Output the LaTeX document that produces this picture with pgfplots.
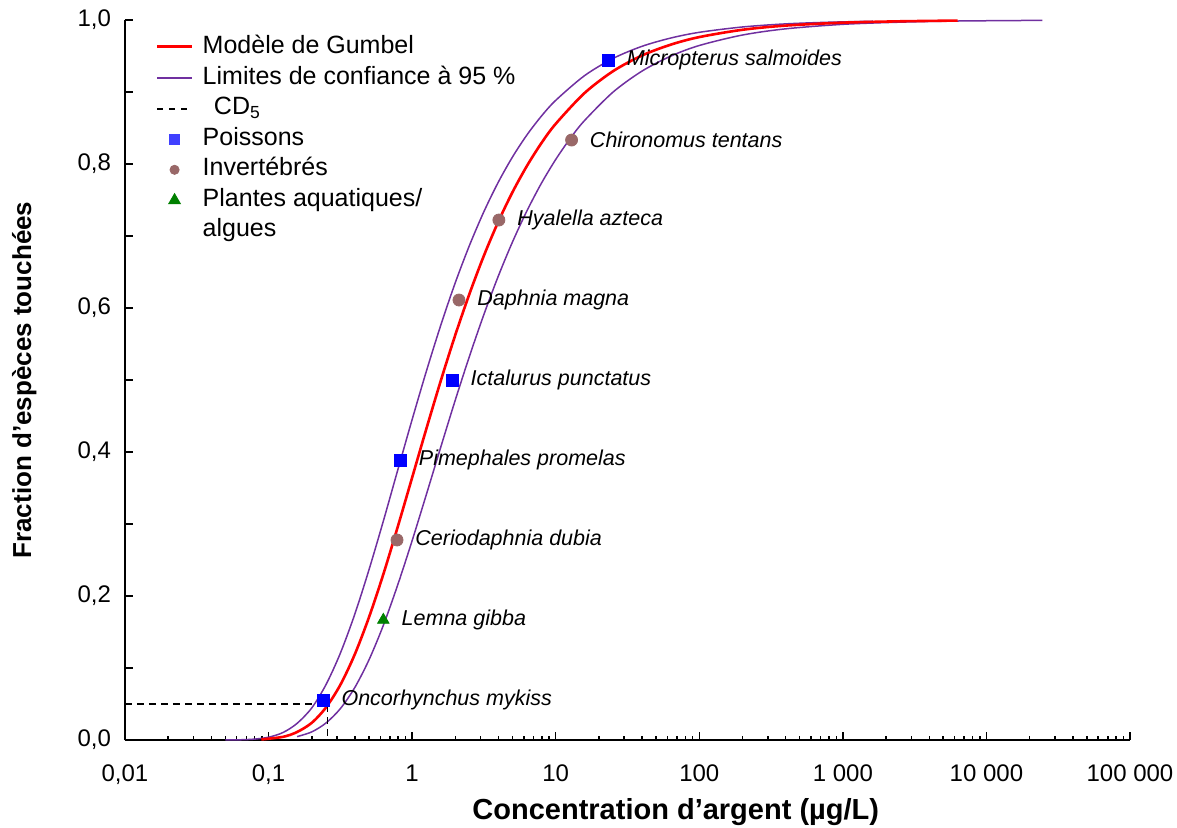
\documentclass[border=0pt]{standalone}
\usepackage{fontspec}
\setmainfont{Liberation Sans}
\usepackage{pgfplots}
\pgfplotsset{compat=1.18}
\usepackage{pgfplotstable}
\definecolor{cbrown}{RGB}{153,104,104}
\definecolor{cpurple}{RGB}{112,48,160}
\definecolor{cgreen}{RGB}{0,128,0}
\definecolor{cred}{RGB}{255,0,0}

\pgfplotstableread{
x y
0.0891 0.0008
0.126 0.0044
0.158 0.0111
0.200 0.0239
0.251 0.0451
0.316 0.0765
0.398 0.1186
0.501 0.1707
0.631 0.2306
0.794 0.2961
1 0.3645
1.259 0.4329
1.585 0.4993
1.995 0.5621
2.512 0.6201
3.162 0.6728
3.981 0.7198
5.012 0.7613
6.310 0.7975
7.943 0.8289
10 0.8558
15.85 0.8984
25.12 0.9290
39.81 0.9506
63.10 0.9657
100 0.9763
199.5 0.9864
398.1 0.9922
1000 0.9963
2512 0.9982
6310 0.9992
}\tabgumbel

\pgfplotstableread{
x y
0.0501 0.0001
0.0631 0.0003
0.0794 0.0012
0.1 0.0039
0.126 0.0104
0.158 0.0231
0.200 0.0446
0.251 0.0768
0.316 0.1204
0.398 0.1743
0.501 0.2367
0.631 0.3045
0.794 0.3749
1 0.4451
1.259 0.5128
1.585 0.5764
1.995 0.6348
2.512 0.6873
3.162 0.7339
3.981 0.7747
5.012 0.8101
6.310 0.8405
7.943 0.8664
10 0.8884
15.85 0.9226
25.12 0.9467
39.81 0.9634
63.10 0.9749
100 0.9829
199.5 0.9903
398.1 0.9946
794.3 0.9969
1622 0.9983
}\tabupper

\pgfplotstableread{
x y
0.158 0.0047
0.200 0.0113
0.251 0.0236
0.316 0.0435
0.398 0.0726
0.501 0.1115
0.631 0.1596
0.794 0.2155
1 0.2769
1.259 0.3416
1.585 0.4072
1.995 0.4717
2.512 0.5334
3.162 0.5911
3.981 0.6442
5.012 0.6922
6.310 0.7351
7.943 0.7731
10 0.8063
12.59 0.8352
15.85 0.8602
25.12 0.9000
39.81 0.9289
63.10 0.9497
100 0.9646
199.5 0.9791
398.1 0.9877
1000 0.9940
2512 0.9970
6310 0.9986
24550 0.9995
}\tablower

\pgfplotstableread[col sep=comma]{
x,y,label
0.240,0.0556,Oncorhynchus mykiss
0.83,0.3889,Pimephales promelas
1.905,0.5,Ictalurus punctatus
23.3,0.9444,Micropterus salmoides
}\tabfish

\pgfplotstableread[col sep=comma]{
x,y,label
0.785,0.2778,Ceriodaphnia dubia
2.12,0.6111,Daphnia magna
4.02,0.7222,Hyalella azteca
12.9,0.8333,Chironomus tentans
}\tabinvert

\pgfplotstableread[col sep=comma]{
x,y,label
0.63,0.1667,Lemna gibba
}\tabplants

\pgfplotstableread{
x y
0.01 0.05
0.258 0.05
0.258 0
}\tabcdfive

\begin{document}
\begin{tikzpicture}
\begin{axis}[
  scale only axis,
  width=502.5pt, height=360pt,
  xmode=log,
  xmin=0.01, xmax=100000,
  ymin=0, ymax=1,
  axis x line*=bottom,
  axis y line*=left,
  axis line style={-, line width=1pt},
  tick align=inside,
  tick style={black, line width=0.75pt},
  major tick length=4pt,
  minor tick length=2pt,
  xtick={0.01,0.1,1,10,100,1000,10000,100000},
  xticklabels={{0,01},{0,1},1,10,100,{1 000},{10 000},{100 000}},
  ytick={0,0.2,0.4,0.6,0.8,1},
  extra y ticks={0.1,0.3,0.5,0.7,0.9},
  extra y tick labels={},
  extra y tick style={tick style={black, line width=0.75pt}},
  /pgf/number format/assume math mode=true,
  yticklabel style={/pgf/number format/.cd, fixed, fixed zerofill, precision=1, use comma, /tikz/.cd, xshift=-3.5pt},
  ticklabel style={font=\fontsize{12}{14}\selectfont},
  xticklabel style={yshift=-9pt},
  xlabel={Concentration d’argent (µg/L)},
  ylabel={Fraction d’espèces touchées},
  xlabel style={at={(axis description cs:0.548,-0.111)}, anchor=base, font=\fontsize{14.5}{17}\selectfont\bfseries},
  ylabel style={at={(axis description cs:-0.0935,0.5)}, anchor=base, font=\fontsize{13}{15}\selectfont\bfseries},
  legend style={at={(axis description cs:0,1)}, anchor=north west, xshift=15.5pt, yshift=-6pt,
    draw=none, fill=none, inner sep=0pt, row sep=0.3pt,
    font=\fontsize{12.5}{15}\selectfont,
    /tikz/every odd column/.append style={column sep=3.5pt},
    nodes={inner sep=1.5pt, text height=9pt, text depth=3pt}},
  legend cell align=left,
  clip=false,
]
\addlegendimage{legend image code/.code={\draw[draw=cred, line width=1.1pt] (0cm,0.5pt) -- (0.6cm,0.5pt);}}
\addlegendentry{Modèle de Gumbel}
\addlegendimage{legend image code/.code={\draw[draw=cpurple, line width=0.9pt] (0cm,0pt) -- (0.6cm,0pt);}}
\addlegendentry{Limites de confiance à 95 \%}
\addlegendimage{legend image code/.code={\draw[draw=black, line width=1pt, dash pattern=on 2.8pt off 3.2pt] (0cm,0cm) -- (0.6cm,0cm);}}
\addlegendentry{\hspace{0.45em}CD\textsubscript{5}}
\addlegendimage{only marks, mark=square*, mark size=2.5pt, color=blue!75!white}
\addlegendentry{Poissons}
\addlegendimage{only marks, mark=*, mark size=2.3pt, color=cbrown}
\addlegendentry{Invertébrés}
\addlegendimage{only marks, mark=triangle*, mark size=3.4pt, color=cgreen}
\addlegendentry{\begin{tabular}[t]{@{}l@{}}Plantes aquatiques/\\algues\end{tabular}}

\addplot[forget plot, smooth, cpurple, line width=0.75pt] table[x=x,y=y] {\tabupper};
\addplot[forget plot, smooth, cpurple, line width=0.75pt] table[x=x,y=y] {\tablower};
\addplot[forget plot, smooth, cred, line width=1.3pt] table[x=x,y=y] {\tabgumbel};
\addplot[forget plot, black, line width=0.75pt, dash pattern=on 3.5pt off 2.5pt] table[x=x,y=y] {\tabcdfive};

\addplot[forget plot, only marks, mark=square*, mark size=3pt, color=blue,
  nodes near coords, point meta=explicit symbolic,
  every node near coord/.append style={anchor=west, inner sep=0pt, xshift=9pt, black, font=\fontsize{10.75}{12}\selectfont\itshape}]
  table[x=x,y=y,meta=label] {\tabfish};
\addplot[forget plot, only marks, mark=*, mark size=3pt, color=cbrown,
  nodes near coords, point meta=explicit symbolic,
  every node near coord/.append style={anchor=west, inner sep=0pt, xshift=9pt, black, font=\fontsize{10.75}{12}\selectfont\itshape}]
  table[x=x,y=y,meta=label] {\tabinvert};
\addplot[forget plot, only marks, mark=triangle*, mark size=3.3pt, color=cgreen,
  nodes near coords, point meta=explicit symbolic,
  every node near coord/.append style={anchor=west, inner sep=0pt, xshift=9pt, black, font=\fontsize{10.75}{12}\selectfont\itshape}]
  table[x=x,y=y,meta=label] {\tabplants};
\end{axis}
\pgfresetboundingbox
\path[use as bounding box] (-62.5pt,-43.5pt) rectangle (526pt,370pt);
\end{tikzpicture}
\end{document}
